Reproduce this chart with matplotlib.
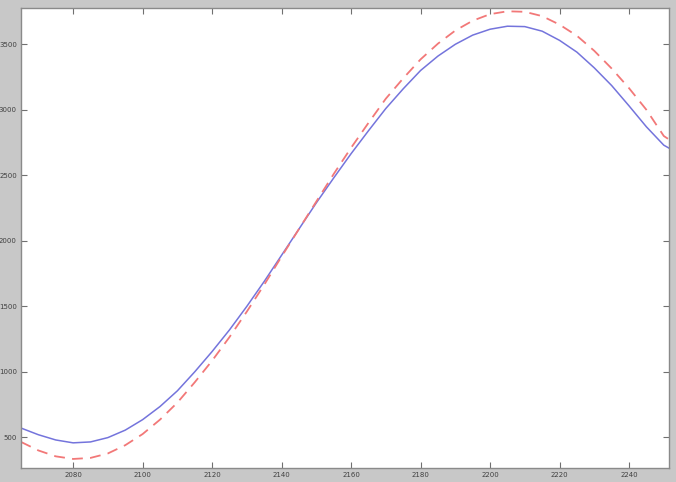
import matplotlib
matplotlib.use("Agg")
import matplotlib.pyplot as plt

years = [2065, 2070, 2075, 2080, 2085, 2090, 2095, 2100, 2105, 2110, 2115, 2120,
         2125, 2130, 2135, 2140, 2145, 2150, 2155, 2160, 2165, 2170, 2175, 2180,
         2185, 2190, 2195, 2200, 2205, 2210, 2215, 2220, 2225, 2230, 2235, 2240,
         2245, 2250, 2252]
blue_vals = [571, 520, 480, 458, 465, 498, 555, 635, 735, 855, 1000, 1155,
             1320, 1500, 1690, 1890, 2090, 2290, 2480, 2665, 2840, 3010, 3160, 3300,
             3410, 3500, 3570, 3615, 3638, 3635, 3600, 3530, 3440, 3320, 3185, 3030,
             2870, 2730, 2700]
red_vals = [465, 400, 355, 335, 343, 377, 440, 525, 635, 765, 920, 1085,
            1265, 1460, 1665, 1880, 2090, 2300, 2510, 2710, 2900, 3085, 3240, 3385,
            3505, 3605, 3680, 3730, 3752, 3748, 3715, 3650, 3565, 3450, 3315, 3165,
            3000, 2800, 2765]
xticks = [2080, 2100, 2120, 2140, 2160, 2180, 2200, 2220, 2240]
yticks = [500, 1000, 1500, 2000, 2500, 3000, 3500]

fig = plt.figure(figsize=(6.76, 4.82), dpi=100, facecolor="#c8c8c8")
ax = fig.add_axes([21/676, 1 - 468/482, (669 - 21)/676, (468 - 8)/482])
ax.set_facecolor("white")

ax.plot(years, blue_vals, color="#7474dc", lw=1.1)
ax.plot(years, red_vals, color="#f27878", lw=1.3, ls=(0, (6, 4)))

ax.set_xlim(2065, 2251.5)
ax.set_ylim(266, 3777)
ax.set_xticks(xticks)
ax.set_yticks(yticks)
ax.set_xticklabels([str(v) for v in xticks])
ax.set_yticklabels([str(v) for v in yticks])

ax.tick_params(direction="in", length=4, width=0.8, color="#707070",
               labelsize=5, labelcolor="#404040", top=True, right=True, pad=3)
for s in ax.spines.values():
    s.set_color("#8a8a8a")
    s.set_linewidth(1.0)

fig.savefig("out.png", dpi=100, facecolor=fig.get_facecolor())
